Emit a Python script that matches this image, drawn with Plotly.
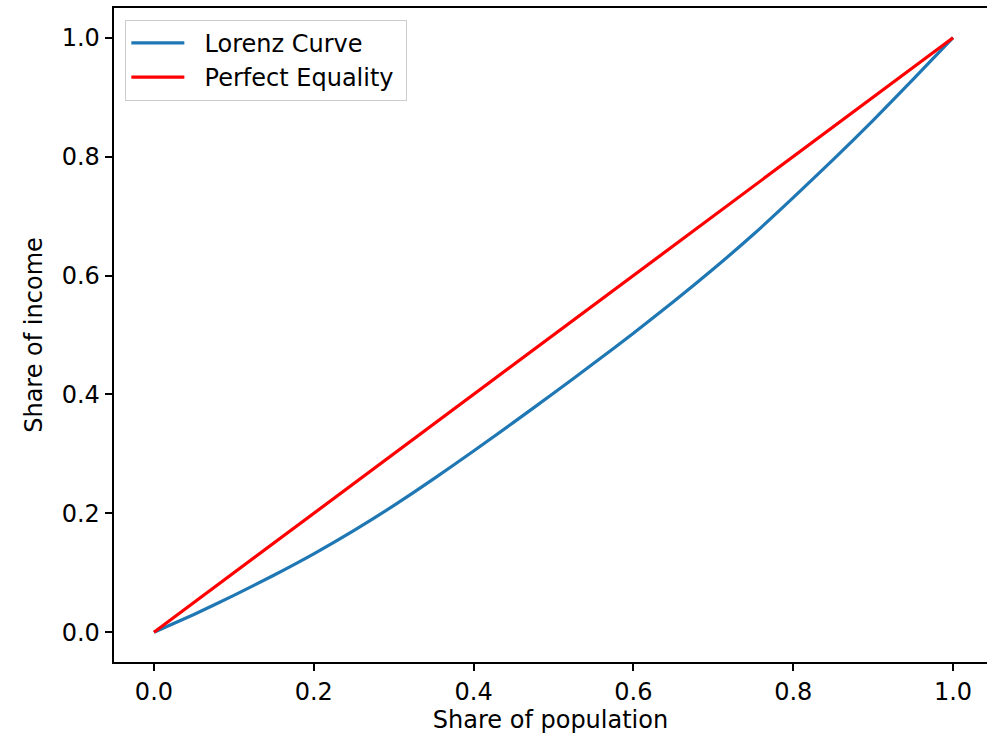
import plotly.graph_objects as go

population_share = [0.0, 0.05, 0.1, 0.15, 0.2, 0.25, 0.3, 0.35, 0.4, 0.45, 0.5,
                    0.55, 0.6, 0.65, 0.7, 0.75, 0.8, 0.85, 0.9, 0.95, 1.0]
lorenz_income = [0.0, 0.030, 0.062, 0.096, 0.132, 0.171, 0.213, 0.258, 0.305, 0.353, 0.402,
                 0.452, 0.503, 0.556, 0.611, 0.669, 0.731, 0.795, 0.861, 0.930, 1.0]
equality_x = [0.0, 1.0]
equality_y = [0.0, 1.0]
tick_vals = [0.0, 0.2, 0.4, 0.6, 0.8, 1.0]
tick_text = ["0.0", "0.2", "0.4", "0.6", "0.8", "1.0"]
series_names = ["Lorenz Curve", "Perfect Equality"]

FONT = "DejaVu Sans"
FS = 24
PAD = "\u00a0\u00a0"
TAIL = "\u00a0"

fig = go.Figure()
fig.add_trace(go.Scatter(x=population_share, y=lorenz_income, mode="lines",
                         name=PAD + series_names[0], legendgroup="a",
                         line=dict(color="#1f77b4", width=3.2, shape="spline", smoothing=0.5)))
fig.add_trace(go.Scatter(x=equality_x, y=equality_y, mode="lines",
                         name=PAD + series_names[1] + TAIL, legendgroup="b",
                         line=dict(color="red", width=3.2)))

axis_common = dict(showgrid=False, zeroline=False, showline=True, linecolor="black",
                   linewidth=1.7, ticks="outside", ticklen=7.5, tickwidth=1.7,
                   tickcolor="black", tickvals=tick_vals, ticktext=tick_text,
                   tickfont=dict(family=FONT, size=FS, color="black"),
                   automargin=False)

fig.update_layout(
    width=987, height=741,
    margin=dict(l=114, r=0, t=8, b=79),
    paper_bgcolor="white", plot_bgcolor="white",
    font=dict(family=FONT, size=FS, color="black"),
    xaxis=dict(range=[-0.05, 1.0425], mirror=True,
               title=dict(text="Share of population", font=dict(family=FONT, size=FS), standoff=6),
               **axis_common),
    yaxis=dict(range=[-0.05, 1.05], mirror=False,
               title=dict(text="Share of income", font=dict(family=FONT, size=FS), standoff=12),
               **axis_common),
    legend=dict(x=0.013, y=0.982, xanchor="left", yanchor="top",
                bgcolor="rgba(255,255,255,0.8)", bordercolor="#cccccc", borderwidth=1,
                font=dict(family=FONT, size=FS, color="black"),
                tracegroupgap=0, itemwidth=53),
    showlegend=True,
)
fig.write_html("out.html")
